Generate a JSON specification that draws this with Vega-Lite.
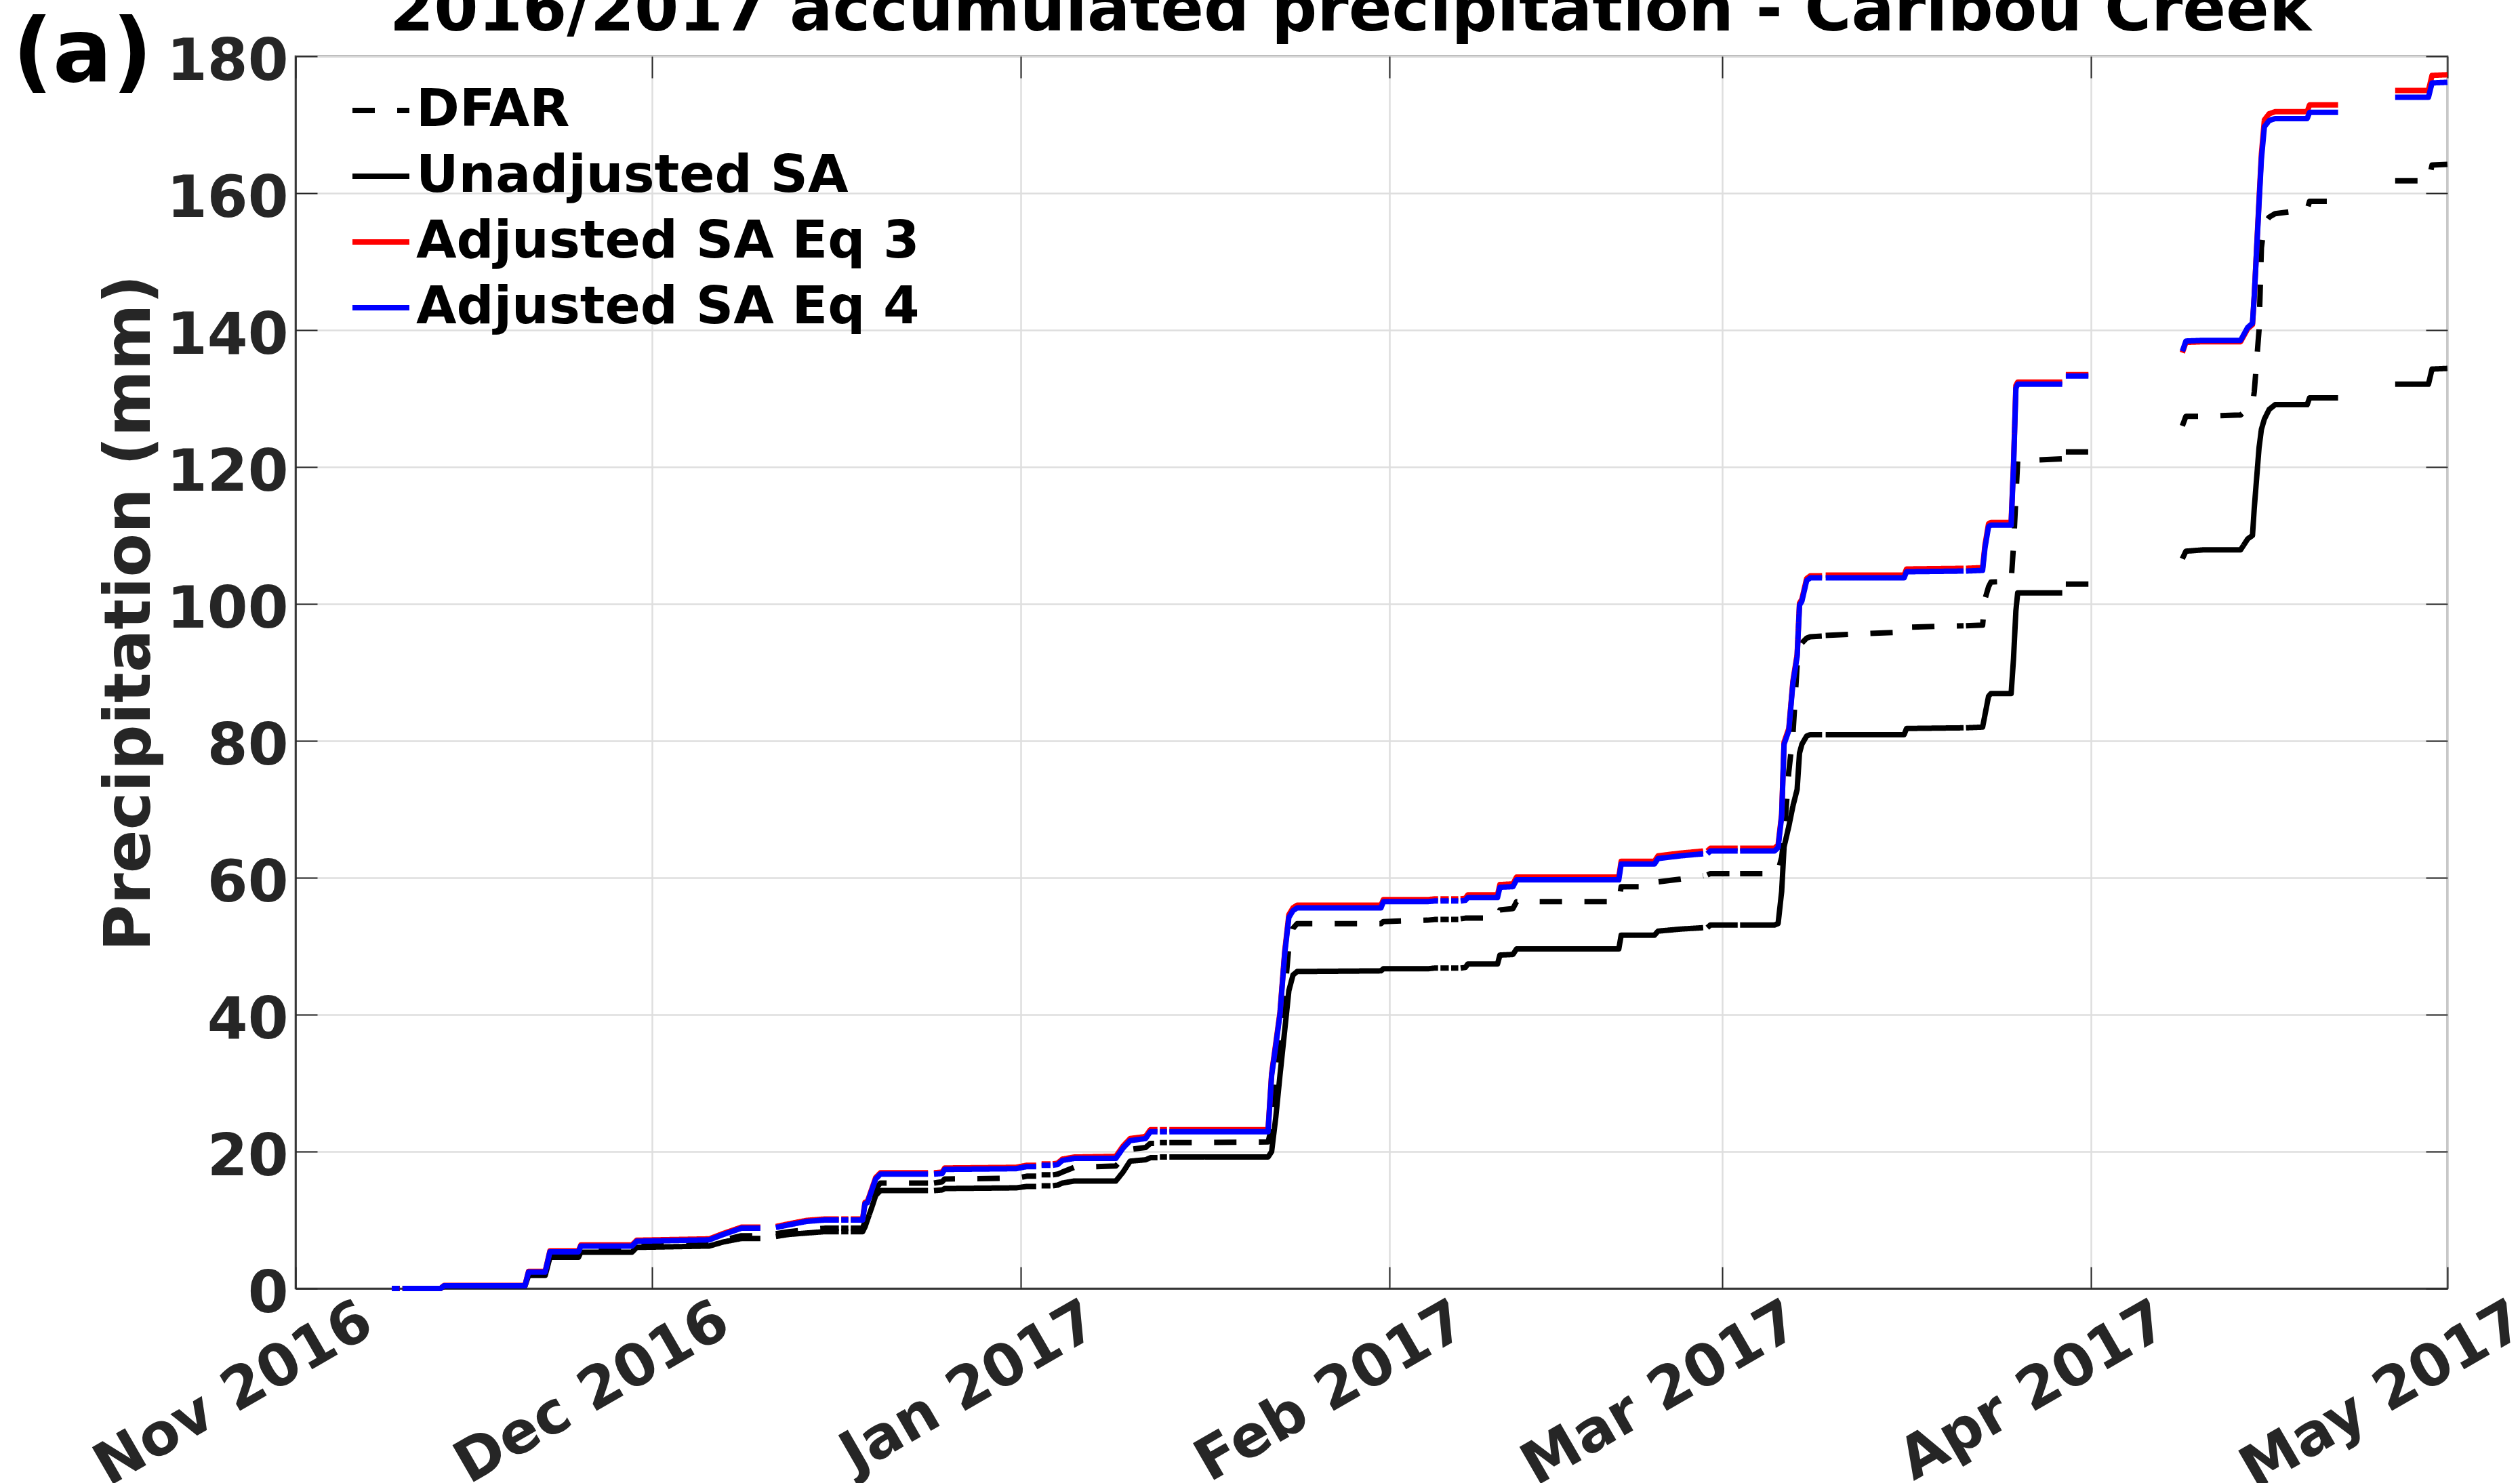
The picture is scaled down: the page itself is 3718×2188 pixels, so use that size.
{
  "$schema": "https://vega.github.io/schema/vega-lite/v6.json",
  "width": 3175,
  "height": 1818,
  "autosize": {"type": "none"},
  "padding": {"left": 436, "top": 83, "right": 107, "bottom": 287},
  "background": "white",
  "config": {
    "font": "DejaVu Sans",
    "view": {"stroke": "#262626", "strokeWidth": 2.5}
  },
  "title": {
    "text": "2016/2017 accumulated precipitation - Caribou Creek",
    "fontSize": 94,
    "fontWeight": "bold",
    "font": "DejaVu Sans",
    "color": "black",
    "anchor": "middle",
    "baseline": "alphabetic",
    "offset": -123,
    "dx": -31
  },
  "datasets": {
    "precip": [
      {"t":"2016-11-09T02:24","DFAR":0,"Unadjusted SA":0,"Adjusted SA Eq 3":0,"Adjusted SA Eq 4":0},
      {"t":"2016-11-09T18:00","DFAR":0,"Unadjusted SA":0,"Adjusted SA Eq 3":0,"Adjusted SA Eq 4":0},
      {"t":"2016-11-09T20:24","DFAR":null,"Unadjusted SA":null,"Adjusted SA Eq 3":null,"Adjusted SA Eq 4":null},
      {"t":"2016-11-10T00:00","DFAR":0,"Unadjusted SA":0,"Adjusted SA Eq 3":0,"Adjusted SA Eq 4":0},
      {"t":"2016-11-13T04:48","DFAR":0,"Unadjusted SA":0,"Adjusted SA Eq 3":0,"Adjusted SA Eq 4":0},
      {"t":"2016-11-13T12:00","DFAR":0.4,"Unadjusted SA":0.35,"Adjusted SA Eq 3":0.45,"Adjusted SA Eq 4":0.4},
      {"t":"2016-11-20T07:12","DFAR":0.4,"Unadjusted SA":0.35,"Adjusted SA Eq 3":0.45,"Adjusted SA Eq 4":0.4},
      {"t":"2016-11-20T14:24","DFAR":2.1,"Unadjusted SA":1.9,"Adjusted SA Eq 3":2.5,"Adjusted SA Eq 4":2.4},
      {"t":"2016-11-22T00:00","DFAR":2.1,"Unadjusted SA":1.9,"Adjusted SA Eq 3":2.5,"Adjusted SA Eq 4":2.4},
      {"t":"2016-11-22T09:36","DFAR":4.8,"Unadjusted SA":4.55,"Adjusted SA Eq 3":5.5,"Adjusted SA Eq 4":5.35},
      {"t":"2016-11-24T19:12","DFAR":4.8,"Unadjusted SA":4.55,"Adjusted SA Eq 3":5.5,"Adjusted SA Eq 4":5.35},
      {"t":"2016-11-25T00:00","DFAR":5.6,"Unadjusted SA":5.3,"Adjusted SA Eq 3":6.35,"Adjusted SA Eq 4":6.2},
      {"t":"2016-11-29T07:12","DFAR":5.6,"Unadjusted SA":5.3,"Adjusted SA Eq 3":6.35,"Adjusted SA Eq 4":6.2},
      {"t":"2016-11-29T16:48","DFAR":6.3,"Unadjusted SA":6.0,"Adjusted SA Eq 3":7.05,"Adjusted SA Eq 4":6.9},
      {"t":"2016-12-05T19:12","DFAR":6.5,"Unadjusted SA":6.2,"Adjusted SA Eq 3":7.25,"Adjusted SA Eq 4":7.1},
      {"t":"2016-12-07T00:00","DFAR":7.1,"Unadjusted SA":6.8,"Adjusted SA Eq 3":8.05,"Adjusted SA Eq 4":7.9},
      {"t":"2016-12-08T12:00","DFAR":7.7,"Unadjusted SA":7.3,"Adjusted SA Eq 3":8.95,"Adjusted SA Eq 4":8.8},
      {"t":"2016-12-10T02:24","DFAR":7.7,"Unadjusted SA":7.3,"Adjusted SA Eq 3":8.95,"Adjusted SA Eq 4":8.8},
      {"t":"2016-12-10T16:48","DFAR":null,"Unadjusted SA":null,"Adjusted SA Eq 3":null,"Adjusted SA Eq 4":null},
      {"t":"2016-12-11T09:36","DFAR":8.0,"Unadjusted SA":7.6,"Adjusted SA Eq 3":9.05,"Adjusted SA Eq 4":8.9},
      {"t":"2016-12-12T12:00","DFAR":8.3,"Unadjusted SA":7.9,"Adjusted SA Eq 3":9.45,"Adjusted SA Eq 4":9.3},
      {"t":"2016-12-14T00:00","DFAR":8.6,"Unadjusted SA":8.1,"Adjusted SA Eq 3":9.95,"Adjusted SA Eq 4":9.8},
      {"t":"2016-12-15T12:00","DFAR":8.8,"Unadjusted SA":8.3,"Adjusted SA Eq 3":10.15,"Adjusted SA Eq 4":10.0},
      {"t":"2016-12-16T16:48","DFAR":8.8,"Unadjusted SA":8.3,"Adjusted SA Eq 3":10.15,"Adjusted SA Eq 4":10.0},
      {"t":"2016-12-16T19:12","DFAR":null,"Unadjusted SA":null,"Adjusted SA Eq 3":null,"Adjusted SA Eq 4":null},
      {"t":"2016-12-16T21:36","DFAR":8.8,"Unadjusted SA":8.3,"Adjusted SA Eq 3":10.15,"Adjusted SA Eq 4":10.0},
      {"t":"2016-12-17T12:00","DFAR":8.8,"Unadjusted SA":8.3,"Adjusted SA Eq 3":10.15,"Adjusted SA Eq 4":10.0},
      {"t":"2016-12-17T14:24","DFAR":null,"Unadjusted SA":null,"Adjusted SA Eq 3":null,"Adjusted SA Eq 4":null},
      {"t":"2016-12-17T16:48","DFAR":8.8,"Unadjusted SA":8.3,"Adjusted SA Eq 3":10.15,"Adjusted SA Eq 4":10.0},
      {"t":"2016-12-18T16:48","DFAR":8.8,"Unadjusted SA":8.3,"Adjusted SA Eq 3":10.15,"Adjusted SA Eq 4":10.0},
      {"t":"2016-12-18T21:36","DFAR":9.8,"Unadjusted SA":9.0,"Adjusted SA Eq 3":12.6,"Adjusted SA Eq 4":12.4},
      {"t":"2016-12-19T02:24","DFAR":10.8,"Unadjusted SA":10.0,"Adjusted SA Eq 3":12.7,"Adjusted SA Eq 4":12.5},
      {"t":"2016-12-19T12:00","DFAR":13.0,"Unadjusted SA":12.0,"Adjusted SA Eq 3":14.7,"Adjusted SA Eq 4":14.5},
      {"t":"2016-12-19T19:12","DFAR":14.6,"Unadjusted SA":13.6,"Adjusted SA Eq 3":16.2,"Adjusted SA Eq 4":16.0},
      {"t":"2016-12-20T04:48","DFAR":15.4,"Unadjusted SA":14.3,"Adjusted SA Eq 3":16.9,"Adjusted SA Eq 4":16.7},
      {"t":"2016-12-24T04:48","DFAR":15.4,"Unadjusted SA":14.3,"Adjusted SA Eq 3":16.9,"Adjusted SA Eq 4":16.7},
      {"t":"2016-12-24T10:48","DFAR":null,"Unadjusted SA":null,"Adjusted SA Eq 3":null,"Adjusted SA Eq 4":null},
      {"t":"2016-12-24T16:48","DFAR":15.4,"Unadjusted SA":14.3,"Adjusted SA Eq 3":16.9,"Adjusted SA Eq 4":16.7},
      {"t":"2016-12-25T09:36","DFAR":15.6,"Unadjusted SA":14.4,"Adjusted SA Eq 3":17.0,"Adjusted SA Eq 4":16.8},
      {"t":"2016-12-25T14:24","DFAR":16.0,"Unadjusted SA":14.6,"Adjusted SA Eq 3":17.6,"Adjusted SA Eq 4":17.4},
      {"t":"2016-12-31T14:24","DFAR":16.1,"Unadjusted SA":14.7,"Adjusted SA Eq 3":17.7,"Adjusted SA Eq 4":17.5},
      {"t":"2017-01-01T12:00","DFAR":16.4,"Unadjusted SA":14.9,"Adjusted SA Eq 3":18.0,"Adjusted SA Eq 4":17.8},
      {"t":"2017-01-02T07:12","DFAR":16.4,"Unadjusted SA":14.9,"Adjusted SA Eq 3":18.0,"Adjusted SA Eq 4":17.8},
      {"t":"2017-01-02T12:00","DFAR":null,"Unadjusted SA":null,"Adjusted SA Eq 3":null,"Adjusted SA Eq 4":null},
      {"t":"2017-01-02T18:00","DFAR":16.6,"Unadjusted SA":15.0,"Adjusted SA Eq 3":18.2,"Adjusted SA Eq 4":18.0},
      {"t":"2017-01-03T12:00","DFAR":16.6,"Unadjusted SA":15.0,"Adjusted SA Eq 3":18.2,"Adjusted SA Eq 4":18.0},
      {"t":"2017-01-03T14:24","DFAR":null,"Unadjusted SA":null,"Adjusted SA Eq 3":null,"Adjusted SA Eq 4":null},
      {"t":"2017-01-03T16:48","DFAR":16.6,"Unadjusted SA":15.0,"Adjusted SA Eq 3":18.2,"Adjusted SA Eq 4":18.0},
      {"t":"2017-01-04T02:24","DFAR":16.7,"Unadjusted SA":15.1,"Adjusted SA Eq 3":18.3,"Adjusted SA Eq 4":18.1},
      {"t":"2017-01-04T12:00","DFAR":17.0,"Unadjusted SA":15.4,"Adjusted SA Eq 3":18.9,"Adjusted SA Eq 4":18.7},
      {"t":"2017-01-05T12:00","DFAR":17.7,"Unadjusted SA":15.7,"Adjusted SA Eq 3":19.2,"Adjusted SA Eq 4":19.0},
      {"t":"2017-01-09T00:00","DFAR":17.9,"Unadjusted SA":15.7,"Adjusted SA Eq 3":19.3,"Adjusted SA Eq 4":19.0},
      {"t":"2017-01-09T14:24","DFAR":19.0,"Unadjusted SA":17.0,"Adjusted SA Eq 3":20.8,"Adjusted SA Eq 4":20.5},
      {"t":"2017-01-10T04:48","DFAR":20.3,"Unadjusted SA":18.6,"Adjusted SA Eq 3":21.9,"Adjusted SA Eq 4":21.6},
      {"t":"2017-01-11T12:00","DFAR":20.6,"Unadjusted SA":18.8,"Adjusted SA Eq 3":22.2,"Adjusted SA Eq 4":21.9},
      {"t":"2017-01-11T21:36","DFAR":21.2,"Unadjusted SA":19.1,"Adjusted SA Eq 3":23.2,"Adjusted SA Eq 4":22.9},
      {"t":"2017-01-12T12:00","DFAR":21.2,"Unadjusted SA":19.1,"Adjusted SA Eq 3":23.2,"Adjusted SA Eq 4":22.9},
      {"t":"2017-01-12T14:24","DFAR":null,"Unadjusted SA":null,"Adjusted SA Eq 3":null,"Adjusted SA Eq 4":null},
      {"t":"2017-01-12T16:48","DFAR":21.3,"Unadjusted SA":19.2,"Adjusted SA Eq 3":23.2,"Adjusted SA Eq 4":22.9},
      {"t":"2017-01-13T07:12","DFAR":21.3,"Unadjusted SA":19.2,"Adjusted SA Eq 3":23.2,"Adjusted SA Eq 4":22.9},
      {"t":"2017-01-13T09:36","DFAR":null,"Unadjusted SA":null,"Adjusted SA Eq 3":null,"Adjusted SA Eq 4":null},
      {"t":"2017-01-13T12:00","DFAR":21.3,"Unadjusted SA":19.2,"Adjusted SA Eq 3":23.2,"Adjusted SA Eq 4":22.9},
      {"t":"2017-01-21T19:12","DFAR":21.4,"Unadjusted SA":19.2,"Adjusted SA Eq 3":23.2,"Adjusted SA Eq 4":22.9},
      {"t":"2017-01-22T02:24","DFAR":23.5,"Unadjusted SA":20.0,"Adjusted SA Eq 3":31.4,"Adjusted SA Eq 4":31.1},
      {"t":"2017-01-22T10:48","DFAR":30.0,"Unadjusted SA":25.0,"Adjusted SA Eq 3":35.8,"Adjusted SA Eq 4":35.5},
      {"t":"2017-01-22T19:12","DFAR":35.0,"Unadjusted SA":31.1,"Adjusted SA Eq 3":40.3,"Adjusted SA Eq 4":40.0},
      {"t":"2017-01-23T04:48","DFAR":43.0,"Unadjusted SA":37.7,"Adjusted SA Eq 3":49.2,"Adjusted SA Eq 4":48.9},
      {"t":"2017-01-23T13:12","DFAR":50.0,"Unadjusted SA":43.5,"Adjusted SA Eq 3":54.6,"Adjusted SA Eq 4":54.2},
      {"t":"2017-01-23T21:36","DFAR":52.6,"Unadjusted SA":45.8,"Adjusted SA Eq 3":55.6,"Adjusted SA Eq 4":55.2},
      {"t":"2017-01-24T06:00","DFAR":53.3,"Unadjusted SA":46.3,"Adjusted SA Eq 3":56.0,"Adjusted SA Eq 4":55.6},
      {"t":"2017-01-31T07:12","DFAR":53.3,"Unadjusted SA":46.4,"Adjusted SA Eq 3":56.0,"Adjusted SA Eq 4":55.6},
      {"t":"2017-01-31T12:00","DFAR":53.6,"Unadjusted SA":46.7,"Adjusted SA Eq 3":56.8,"Adjusted SA Eq 4":56.5},
      {"t":"2017-02-04T04:48","DFAR":53.8,"Unadjusted SA":46.7,"Adjusted SA Eq 3":56.8,"Adjusted SA Eq 4":56.5},
      {"t":"2017-02-04T19:12","DFAR":53.9,"Unadjusted SA":46.8,"Adjusted SA Eq 3":56.9,"Adjusted SA Eq 4":56.6},
      {"t":"2017-02-05T02:24","DFAR":53.9,"Unadjusted SA":46.8,"Adjusted SA Eq 3":56.9,"Adjusted SA Eq 4":56.6},
      {"t":"2017-02-05T04:48","DFAR":null,"Unadjusted SA":null,"Adjusted SA Eq 3":null,"Adjusted SA Eq 4":null},
      {"t":"2017-02-05T07:12","DFAR":53.9,"Unadjusted SA":46.8,"Adjusted SA Eq 3":56.9,"Adjusted SA Eq 4":56.6},
      {"t":"2017-02-06T00:00","DFAR":53.9,"Unadjusted SA":46.8,"Adjusted SA Eq 3":56.9,"Adjusted SA Eq 4":56.6},
      {"t":"2017-02-06T02:24","DFAR":null,"Unadjusted SA":null,"Adjusted SA Eq 3":null,"Adjusted SA Eq 4":null},
      {"t":"2017-02-06T04:48","DFAR":53.9,"Unadjusted SA":46.8,"Adjusted SA Eq 3":56.9,"Adjusted SA Eq 4":56.6},
      {"t":"2017-02-06T19:12","DFAR":53.9,"Unadjusted SA":46.8,"Adjusted SA Eq 3":56.9,"Adjusted SA Eq 4":56.6},
      {"t":"2017-02-06T21:36","DFAR":null,"Unadjusted SA":null,"Adjusted SA Eq 3":null,"Adjusted SA Eq 4":null},
      {"t":"2017-02-07T00:00","DFAR":54.0,"Unadjusted SA":46.8,"Adjusted SA Eq 3":56.9,"Adjusted SA Eq 4":56.6},
      {"t":"2017-02-07T09:36","DFAR":54.1,"Unadjusted SA":46.9,"Adjusted SA Eq 3":57.0,"Adjusted SA Eq 4":56.7},
      {"t":"2017-02-07T14:24","DFAR":54.1,"Unadjusted SA":47.4,"Adjusted SA Eq 3":57.5,"Adjusted SA Eq 4":57.1},
      {"t":"2017-02-10T02:24","DFAR":54.1,"Unadjusted SA":47.4,"Adjusted SA Eq 3":57.5,"Adjusted SA Eq 4":57.1},
      {"t":"2017-02-10T07:12","DFAR":55.3,"Unadjusted SA":48.7,"Adjusted SA Eq 3":59.0,"Adjusted SA Eq 4":58.6},
      {"t":"2017-02-11T09:36","DFAR":55.5,"Unadjusted SA":48.8,"Adjusted SA Eq 3":59.1,"Adjusted SA Eq 4":58.7},
      {"t":"2017-02-11T16:48","DFAR":56.5,"Unadjusted SA":49.6,"Adjusted SA Eq 3":60.1,"Adjusted SA Eq 4":59.7},
      {"t":"2017-02-20T07:12","DFAR":56.5,"Unadjusted SA":49.6,"Adjusted SA Eq 3":60.1,"Adjusted SA Eq 4":59.7},
      {"t":"2017-02-20T12:00","DFAR":58.7,"Unadjusted SA":51.6,"Adjusted SA Eq 3":62.4,"Adjusted SA Eq 4":62.0},
      {"t":"2017-02-23T07:12","DFAR":58.7,"Unadjusted SA":51.6,"Adjusted SA Eq 3":62.4,"Adjusted SA Eq 4":62.0},
      {"t":"2017-02-23T14:24","DFAR":59.4,"Unadjusted SA":52.2,"Adjusted SA Eq 3":63.2,"Adjusted SA Eq 4":62.8},
      {"t":"2017-02-25T12:00","DFAR":59.8,"Unadjusted SA":52.5,"Adjusted SA Eq 3":63.6,"Adjusted SA Eq 4":63.2},
      {"t":"2017-02-27T09:36","DFAR":60.3,"Unadjusted SA":52.7,"Adjusted SA Eq 3":63.9,"Adjusted SA Eq 4":63.5},
      {"t":"2017-02-27T14:24","DFAR":null,"Unadjusted SA":null,"Adjusted SA Eq 3":null,"Adjusted SA Eq 4":null},
      {"t":"2017-02-27T18:00","DFAR":60.4,"Unadjusted SA":52.7,"Adjusted SA Eq 3":63.9,"Adjusted SA Eq 4":63.5},
      {"t":"2017-02-28T00:00","DFAR":60.6,"Unadjusted SA":53.1,"Adjusted SA Eq 3":64.3,"Adjusted SA Eq 4":63.9},
      {"t":"2017-03-02T07:12","DFAR":60.6,"Unadjusted SA":53.1,"Adjusted SA Eq 3":64.3,"Adjusted SA Eq 4":63.9},
      {"t":"2017-03-02T09:36","DFAR":null,"Unadjusted SA":null,"Adjusted SA Eq 3":null,"Adjusted SA Eq 4":null},
      {"t":"2017-03-02T12:00","DFAR":60.6,"Unadjusted SA":53.1,"Adjusted SA Eq 3":64.3,"Adjusted SA Eq 4":63.9},
      {"t":"2017-03-05T09:36","DFAR":60.6,"Unadjusted SA":53.1,"Adjusted SA Eq 3":64.3,"Adjusted SA Eq 4":63.9},
      {"t":"2017-03-05T16:48","DFAR":61.0,"Unadjusted SA":53.3,"Adjusted SA Eq 3":64.8,"Adjusted SA Eq 4":64.4},
      {"t":"2017-03-06T00:00","DFAR":63.0,"Unadjusted SA":58.0,"Adjusted SA Eq 3":69.3,"Adjusted SA Eq 4":69.0},
      {"t":"2017-03-06T04:48","DFAR":66.0,"Unadjusted SA":64.5,"Adjusted SA Eq 3":79.8,"Adjusted SA Eq 4":79.5},
      {"t":"2017-03-06T14:24","DFAR":75.5,"Unadjusted SA":67.5,"Adjusted SA Eq 3":81.8,"Adjusted SA Eq 4":81.5},
      {"t":"2017-03-06T22:48","DFAR":81.0,"Unadjusted SA":70.5,"Adjusted SA Eq 3":88.8,"Adjusted SA Eq 4":88.5},
      {"t":"2017-03-07T07:12","DFAR":91.0,"Unadjusted SA":72.9,"Adjusted SA Eq 3":92.6,"Adjusted SA Eq 4":92.3},
      {"t":"2017-03-07T12:00","DFAR":93.0,"Unadjusted SA":78.2,"Adjusted SA Eq 3":100.1,"Adjusted SA Eq 4":99.8},
      {"t":"2017-03-07T16:48","DFAR":94.3,"Unadjusted SA":79.5,"Adjusted SA Eq 3":100.7,"Adjusted SA Eq 4":100.4},
      {"t":"2017-03-08T02:24","DFAR":95.0,"Unadjusted SA":80.7,"Adjusted SA Eq 3":103.7,"Adjusted SA Eq 4":103.4},
      {"t":"2017-03-08T09:36","DFAR":95.2,"Unadjusted SA":80.9,"Adjusted SA Eq 3":104.1,"Adjusted SA Eq 4":103.8},
      {"t":"2017-03-09T09:36","DFAR":95.3,"Unadjusted SA":80.9,"Adjusted SA Eq 3":104.1,"Adjusted SA Eq 4":103.8},
      {"t":"2017-03-09T12:00","DFAR":null,"Unadjusted SA":null,"Adjusted SA Eq 3":null,"Adjusted SA Eq 4":null},
      {"t":"2017-03-09T16:48","DFAR":95.4,"Unadjusted SA":80.9,"Adjusted SA Eq 3":104.2,"Adjusted SA Eq 4":103.8},
      {"t":"2017-03-16T07:12","DFAR":95.9,"Unadjusted SA":80.9,"Adjusted SA Eq 3":104.2,"Adjusted SA Eq 4":103.8},
      {"t":"2017-03-16T12:00","DFAR":96.6,"Unadjusted SA":81.8,"Adjusted SA Eq 3":105.1,"Adjusted SA Eq 4":104.7},
      {"t":"2017-03-21T07:12","DFAR":96.8,"Unadjusted SA":81.9,"Adjusted SA Eq 3":105.2,"Adjusted SA Eq 4":104.8},
      {"t":"2017-03-21T09:36","DFAR":null,"Unadjusted SA":null,"Adjusted SA Eq 3":null,"Adjusted SA Eq 4":null},
      {"t":"2017-03-21T12:00","DFAR":96.8,"Unadjusted SA":81.9,"Adjusted SA Eq 3":105.2,"Adjusted SA Eq 4":104.8},
      {"t":"2017-03-22T21:36","DFAR":96.9,"Unadjusted SA":82.0,"Adjusted SA Eq 3":105.3,"Adjusted SA Eq 4":104.9},
      {"t":"2017-03-23T02:24","DFAR":100.7,"Unadjusted SA":83.8,"Adjusted SA Eq 3":108.6,"Adjusted SA Eq 4":108.2},
      {"t":"2017-03-23T09:36","DFAR":102.5,"Unadjusted SA":86.5,"Adjusted SA Eq 3":111.7,"Adjusted SA Eq 4":111.3},
      {"t":"2017-03-23T14:24","DFAR":103.2,"Unadjusted SA":86.9,"Adjusted SA Eq 3":111.9,"Adjusted SA Eq 4":111.5},
      {"t":"2017-03-25T07:12","DFAR":103.3,"Unadjusted SA":86.9,"Adjusted SA Eq 3":111.9,"Adjusted SA Eq 4":111.5},
      {"t":"2017-03-25T12:00","DFAR":108.5,"Unadjusted SA":92.0,"Adjusted SA Eq 3":120.4,"Adjusted SA Eq 4":120.0},
      {"t":"2017-03-25T16:48","DFAR":115.5,"Unadjusted SA":99.0,"Adjusted SA Eq 3":131.9,"Adjusted SA Eq 4":131.5},
      {"t":"2017-03-25T20:24","DFAR":120.9,"Unadjusted SA":101.6,"Adjusted SA Eq 3":132.4,"Adjusted SA Eq 4":132.1},
      {"t":"2017-03-29T14:24","DFAR":121.2,"Unadjusted SA":101.6,"Adjusted SA Eq 3":132.4,"Adjusted SA Eq 4":132.1},
      {"t":"2017-03-29T18:00","DFAR":null,"Unadjusted SA":null,"Adjusted SA Eq 3":null,"Adjusted SA Eq 4":null},
      {"t":"2017-03-29T21:36","DFAR":122.2,"Unadjusted SA":102.9,"Adjusted SA Eq 3":133.5,"Adjusted SA Eq 4":133.3},
      {"t":"2017-03-31T19:12","DFAR":122.2,"Unadjusted SA":102.9,"Adjusted SA Eq 3":133.5,"Adjusted SA Eq 4":133.3},
      {"t":"2017-04-04T00:00","DFAR":null,"Unadjusted SA":null,"Adjusted SA Eq 3":null,"Adjusted SA Eq 4":null},
      {"t":"2017-04-08T16:48","DFAR":126.0,"Unadjusted SA":106.6,"Adjusted SA Eq 3":136.7,"Adjusted SA Eq 4":136.9},
      {"t":"2017-04-09T00:00","DFAR":127.4,"Unadjusted SA":107.7,"Adjusted SA Eq 3":138.2,"Adjusted SA Eq 4":138.4},
      {"t":"2017-04-10T12:00","DFAR":127.4,"Unadjusted SA":107.9,"Adjusted SA Eq 3":138.3,"Adjusted SA Eq 4":138.5},
      {"t":"2017-04-13T14:24","DFAR":127.6,"Unadjusted SA":107.9,"Adjusted SA Eq 3":138.3,"Adjusted SA Eq 4":138.5},
      {"t":"2017-04-14T04:48","DFAR":128.5,"Unadjusted SA":109.5,"Adjusted SA Eq 3":140.2,"Adjusted SA Eq 4":140.4},
      {"t":"2017-04-14T14:24","DFAR":129.0,"Unadjusted SA":110.0,"Adjusted SA Eq 3":140.8,"Adjusted SA Eq 4":141.0},
      {"t":"2017-04-14T18:00","DFAR":131.0,"Unadjusted SA":114.0,"Adjusted SA Eq 3":145.0,"Adjusted SA Eq 4":145.0},
      {"t":"2017-04-15T03:36","DFAR":140.0,"Unadjusted SA":122.8,"Adjusted SA Eq 3":159.0,"Adjusted SA Eq 4":158.5},
      {"t":"2017-04-15T08:24","DFAR":152.0,"Unadjusted SA":125.5,"Adjusted SA Eq 3":165.7,"Adjusted SA Eq 4":165.0},
      {"t":"2017-04-15T14:24","DFAR":155.5,"Unadjusted SA":127.0,"Adjusted SA Eq 3":170.7,"Adjusted SA Eq 4":169.7},
      {"t":"2017-04-16T00:00","DFAR":156.5,"Unadjusted SA":128.4,"Adjusted SA Eq 3":171.6,"Adjusted SA Eq 4":170.6},
      {"t":"2017-04-16T12:00","DFAR":157.0,"Unadjusted SA":129.1,"Adjusted SA Eq 3":171.9,"Adjusted SA Eq 4":170.9},
      {"t":"2017-04-19T04:48","DFAR":157.6,"Unadjusted SA":129.1,"Adjusted SA Eq 3":171.9,"Adjusted SA Eq 4":170.9},
      {"t":"2017-04-19T09:36","DFAR":158.8,"Unadjusted SA":130.1,"Adjusted SA Eq 3":172.9,"Adjusted SA Eq 4":171.8},
      {"t":"2017-04-21T19:12","DFAR":158.8,"Unadjusted SA":130.1,"Adjusted SA Eq 3":172.9,"Adjusted SA Eq 4":171.8},
      {"t":"2017-04-24T00:00","DFAR":null,"Unadjusted SA":null,"Adjusted SA Eq 3":null,"Adjusted SA Eq 4":null},
      {"t":"2017-04-26T14:24","DFAR":161.8,"Unadjusted SA":132.1,"Adjusted SA Eq 3":175.0,"Adjusted SA Eq 4":174.0},
      {"t":"2017-04-29T09:36","DFAR":161.8,"Unadjusted SA":132.1,"Adjusted SA Eq 3":175.0,"Adjusted SA Eq 4":174.0},
      {"t":"2017-04-29T16:48","DFAR":164.1,"Unadjusted SA":134.3,"Adjusted SA Eq 3":177.2,"Adjusted SA Eq 4":176.1},
      {"t":"2017-05-01T00:00","DFAR":164.2,"Unadjusted SA":134.4,"Adjusted SA Eq 3":177.3,"Adjusted SA Eq 4":176.2}
    ],
    "panel": [{"label": "(a)"}]
  },
  "layer": [
    {
      "data": {"name": "precip"},
      "transform": [
        {"fold": ["DFAR", "Unadjusted SA", "Adjusted SA Eq 3", "Adjusted SA Eq 4"], "as": ["series", "mm"]}
      ],
      "mark": {"type": "line", "strokeWidth": 8, "strokeJoin": "round", "invalid": "break-paths-show-domains"},
      "encoding": {
        "x": {
          "field": "t",
          "type": "temporal",
          "scale": {"domain": [{"year": 2016, "month": 11, "date": 1}, {"year": 2017, "month": 5, "date": 1}], "nice": false},
          "axis": {
            "orient": "bottom",
            "title": null,
            "format": "%b %Y",
            "tickCount": {"interval": "month", "step": 1},
            "labelAngle": -30,
            "labelAlign": "right",
            "labelBaseline": "top",
            "labelFont": "DejaVu Sans",
            "labelFontSize": 86,
            "labelFontWeight": "bold",
            "labelColor": "#262626",
            "labelPadding": 37,
            "labelOffset": 85,
            "labelLimit": 3000,
            "labelFlush": false,
            "labelOverlap": false,
            "labelBound": false,
            "tickSize": -32,
            "tickColor": "#262626",
            "tickWidth": 2,
            "grid": true,
            "gridColor": "#dedede",
            "gridWidth": 2.5,
            "domainColor": "#262626",
            "domainWidth": 2.5
          }
        },
        "y": {
          "field": "mm",
          "type": "quantitative",
          "scale": {"domain": [0, 180], "nice": false},
          "axis": {
            "orient": "left",
            "title": "Precipitation (mm)",
            "values": [0, 20, 40, 60, 80, 100, 120, 140, 160, 180],
            "labelFont": "DejaVu Sans",
            "labelFontSize": 86,
            "labelFontWeight": "bold",
            "labelColor": "#262626",
            "labelPadding": 43,
            "labelOffset": 8,
            "labelLimit": 3000,
            "labelFlush": false,
            "labelOverlap": false,
            "labelBound": false,
            "tickSize": -32,
            "tickColor": "#262626",
            "tickWidth": 2,
            "grid": true,
            "gridColor": "#dedede",
            "gridWidth": 2.5,
            "domainColor": "#262626",
            "domainWidth": 2.5,
            "titleFont": "DejaVu Sans",
            "titleFontSize": 94,
            "titleFontWeight": "bold",
            "titleColor": "#262626",
            "titleAngle": -90,
            "titleAlign": "center",
            "titleBaseline": "alphabetic",
            "titleX": -216,
            "titleY": 821
          }
        },
        "color": {
          "field": "series",
          "type": "nominal",
          "scale": {
            "domain": ["DFAR", "Unadjusted SA", "Adjusted SA Eq 3", "Adjusted SA Eq 4"],
            "range": ["#000000", "#000000", "#ff0000", "#0000ff"]
          },
          "legend": {
            "title": null,
            "orient": "none",
            "legendX": 80,
            "legendY": 34,
            "padding": 0,
            "symbolType": "stroke",
            "symbolSize": 7056,
            "symbolStrokeWidth": 8,
            "labelFont": "DejaVu Sans",
            "labelFontSize": 77,
            "labelFontWeight": "bold",
            "labelColor": "#000000",
            "labelOffset": 6,
            "labelLimit": 2000,
            "rowPadding": 13
          }
        },
        "strokeDash": {
          "field": "series",
          "type": "nominal",
          "scale": {
            "domain": ["DFAR", "Unadjusted SA", "Adjusted SA Eq 3", "Adjusted SA Eq 4"],
            "range": [[33, 33], [1, 0], [1, 0], [1, 0]]
          }
        }
      }
    },
    {
      "data": {"name": "panel"},
      "mark": {
        "type": "text",
        "font": "DejaVu Sans",
        "fontSize": 130,
        "fontWeight": "bold",
        "color": "#000000",
        "align": "center",
        "baseline": "alphabetic"
      },
      "encoding": {
        "text": {"field": "label", "type": "nominal"},
        "x": {
          "datum": {"year": 2016, "month": 10, "date": 14, "hours": 2},
          "type": "temporal",
          "axis": {
            "orient": "top",
            "title": null,
            "labels": false,
            "grid": false,
            "domain": false,
            "tickCount": {"interval": "month", "step": 1},
            "tickSize": -32,
            "tickColor": "#262626",
            "tickWidth": 2
          }
        },
        "y": {
          "datum": 176.3,
          "type": "quantitative",
          "axis": {
            "orient": "right",
            "title": null,
            "labels": false,
            "grid": false,
            "domain": false,
            "values": [0, 20, 40, 60, 80, 100, 120, 140, 160, 180],
            "tickSize": -32,
            "tickColor": "#262626",
            "tickWidth": 2
          }
        }
      }
    }
  ],
  "resolve": {"axis": {"x": "independent", "y": "independent"}}
}
